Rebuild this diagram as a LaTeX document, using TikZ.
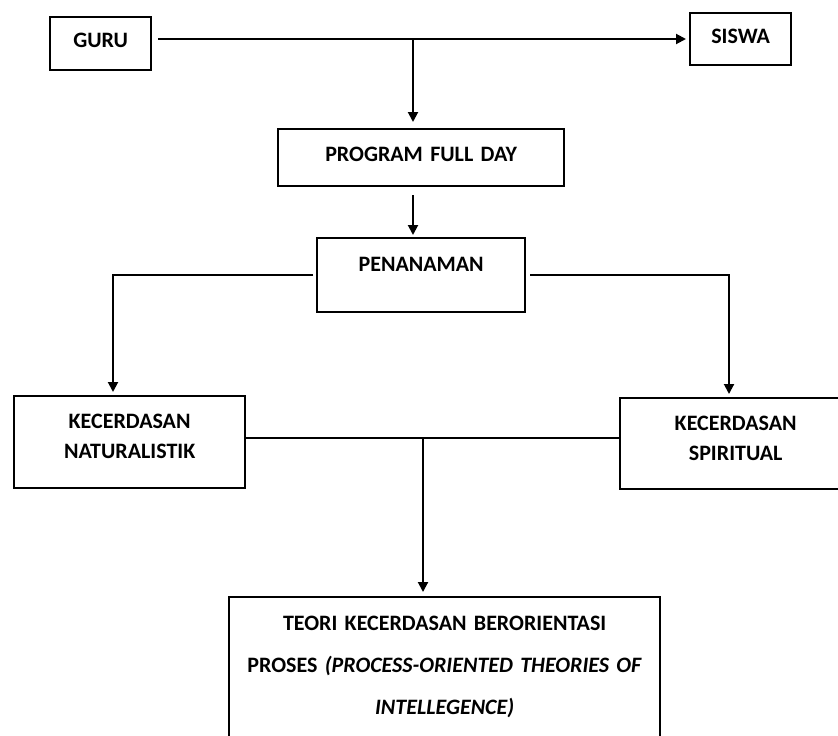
\documentclass[tikz,border=0pt]{standalone}
\usepackage{fontspec}
\setmainfont{Carlito}
\usetikzlibrary{arrows.meta}

\begin{document}
\begin{tikzpicture}[x=0.75pt, y=-0.75pt,
    box/.style={draw, line width=1.7pt, inner sep=0pt, align=center, anchor=north west,
      font=\bfseries\fontsize{16.5}{22.5}\selectfont},
    arr/.style={line width=1.5pt, -{Triangle[length=7.5pt,width=7.5pt]}},
    conn/.style={line width=1.5pt}]
    \useasboundingbox (0,0) rectangle (838,735);

    \node[box, text width=75.75pt,  text height=22.5pt,  text depth=17.25pt] (guru)  at (49,16)   {GURU};
    \node[box, text width=75.75pt,  text height=22.5pt,  text depth=16.5pt]  (siswa) at (689,12)  {SISWA};
    \node[box, text width=214.5pt,  text height=24pt,    text depth=18.75pt] (pfd)   at (277,128) {PROGRAM FULL DAY};
    \node[box, text width=156pt,    text height=24.75pt, text depth=30.75pt] (pen)   at (316,237) {PENANAMAN};
    \node[box, text width=173.25pt, text height=24pt,    text depth=45pt]    (natur) at (13,395)  {KECERDASAN\\NATURALISTIK};
    \node[box, text width=173.25pt, text height=24pt,    text depth=44.25pt] (spirit) at (619,397) {KECERDASAN\\SPIRITUAL};
    \node[box, text width=323.25pt, text height=24.75pt, text depth=105.75pt,
      font=\bfseries\fontsize{16.5}{31.5}\selectfont] (teori) at (228,596)
      {TEORI KECERDASAN BERORIENTASI\\PROSES \textit{(PROCESS-ORIENTED THEORIES OF}\\\textit{INTELLEGENCE)}};

    \coordinate (junc) at (413,39);
    \coordinate (naturtop) at (113,395);
    \coordinate (spirittop) at (729,397);
    \coordinate (mid) at (423,438);

    \draw[arr, shorten <=4.5pt, shorten >=2.25pt] (guru.east |- junc) -- (siswa.west |- junc);
    \draw[arr, shorten >=4.5pt] (junc) -- (junc |- pfd.north);
    \draw[arr, shorten <=6pt, shorten >=1.5pt] (pfd.south -| junc) -- (junc |- pen.north);
    \draw[arr, shorten <=2.25pt, shorten >=2.25pt] (pen.west) -| (naturtop);
    \draw[arr, shorten <=3pt, shorten >=2.25pt] (pen.east) -| (spirittop);
    \draw[conn] (natur.east |- mid) -- (spirit.west |- mid);
    \draw[arr, shorten >=3pt] (mid) -- (mid |- teori.north);
\end{tikzpicture}
\end{document}
